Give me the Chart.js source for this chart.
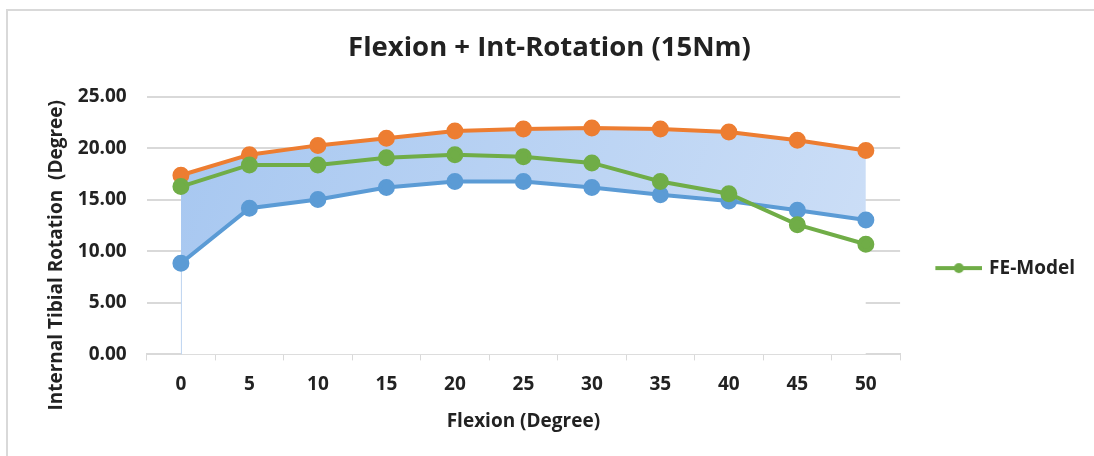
<!DOCTYPE html>
<html>
<head>
<meta charset="utf-8">
<script src="https://cdn.jsdelivr.net/npm/chart.js@4.4.0/dist/chart.umd.min.js"></script>
<style>
    html, body { margin: 0; padding: 0; background: #fff; }
    #wrap { position: relative; width: 1094px; height: 456px; }
    #frame { position: absolute; left: 6px; top: 9px; right: 0; bottom: 0;
             border-top: 2px solid #d9d9d9; border-left: 2px solid #d9d9d9; pointer-events: none; }
    canvas { display: block; }
</style>
</head>
<body>
<div id="wrap">
    <canvas id="chart" width="1094" height="456"></canvas>
    <div id="frame"></div>
</div>
<script>
// ── Data ─────────────────────────────────────────────────────────────────────
const flexion   = ['0', '5', '10', '15', '20', '25', '30', '35', '40', '45', '50'];
const upperVals = [17.4, 19.4, 20.3, 21.0, 21.7, 21.9, 22.0, 21.9, 21.6, 20.8, 19.8];
const lowerVals = [8.85, 14.2, 15.05, 16.2, 16.8, 16.8, 16.2, 15.5, 14.9, 14.0, 13.05];
const feModel   = [16.3, 18.4, 18.4, 19.1, 19.4, 19.2, 18.6, 16.8, 15.6, 12.6, 10.7];

const ORANGE = '#ED7D31';
const BLUE   = '#5B9BD5';
const GREEN  = '#70AD47';
const GRID   = '#d9d9d9';
const TEXT   = '#222222';
const FONT   = '"Open Sans", Lato, sans-serif';

// legend icon: line with a dot (transparent left part so the line sits next to the text)
function legendIcon(color) {
    const c = document.createElement('canvas');
    c.width = 75; c.height = 14;
    const g = c.getContext('2d');
    g.strokeStyle = color; g.lineWidth = 4;
    g.beginPath(); g.moveTo(28, 7); g.lineTo(75, 7); g.stroke();
    g.fillStyle = color;
    g.beginPath(); g.arc(51.5, 7, 5, 0, Math.PI * 2); g.fill();
    return c;
}
const feIcon = legendIcon(GREEN);

function bandGradient(ctx) {
    const area = ctx.chart.chartArea;
    if (!area) return 'rgba(168,200,240,0.9)';
    const g = ctx.chart.ctx.createLinearGradient(area.left, area.top, area.right, area.bottom);
    g.addColorStop(0, '#a5c6f0');
    g.addColorStop(1, '#cfe0f7');
    return g;
}

// thin edge line of the lower area at the first category
const edgeLine = {
    id: 'edgeLine',
    afterDatasetDraw(chart, args) {
        if (args.index !== 3) return;
        const x = chart.scales.x.getPixelForValue(0);
        const y0 = chart.scales.y.getPixelForValue(0);
        const y1 = chart.scales.y.getPixelForValue(lowerVals[0]);
        const c = chart.ctx;
        c.save();
        c.strokeStyle = '#bcd4f0';
        c.lineWidth = 1;
        c.beginPath(); c.moveTo(x + 0.5, y1); c.lineTo(x + 0.5, y0); c.stroke();
        c.restore();
    }
};

const lineDs = (label, data, color, order) => ({
    label, data, order,
    borderColor: color, backgroundColor: color,
    pointBackgroundColor: color, pointBorderColor: color,
    borderWidth: 4, pointRadius: 6.5, pointHoverRadius: 6.5,
    fill: false, tension: 0
});

new Chart(document.getElementById('chart'), {
    type: 'line',
    data: {
        labels: flexion,
        datasets: [
            lineDs('FE-Model', feModel, GREEN, 0),
            lineDs('Upper', upperVals, ORANGE, 1),
            lineDs('Lower', lowerVals, BLUE, 2),
            { label: 'base', data: lowerVals, order: 4, fill: 'origin',
              backgroundColor: '#ffffff', borderWidth: 0, pointRadius: 0, borderColor: 'rgba(0,0,0,0)' },
            { label: 'band', data: upperVals, order: 3, fill: 3,
              backgroundColor: bandGradient, borderWidth: 0, pointRadius: 0, borderColor: 'rgba(0,0,0,0)' }
        ]
    },
    options: {
        responsive: false,
        animation: false,
        layout: { padding: { top: 32, left: 14, right: 9, bottom: 23 } },
        plugins: {
            title: {
                display: true,
                text: 'Flexion + Int-Rotation (15Nm)',
                color: TEXT,
                font: { family: FONT, size: 27.5, weight: 'bold' },
                padding: { top: 0, bottom: 32 }
            },
            legend: {
                position: 'right',
                align: 'center',
                title: { display: true, text: '', padding: { top: 64, bottom: 0 }, font: { size: 6 } },
                labels: {
                    color: TEXT,
                    font: { family: FONT, size: 19, weight: 'bold' },
                    usePointStyle: true,
                    pointStyleWidth: 69.5,
                    padding: 10,
                    filter: item => item.datasetIndex === 0,
                    generateLabels(chart) {
                        const items = Chart.defaults.plugins.legend.labels.generateLabels(chart);
                        items.forEach(i => { i.pointStyle = feIcon; });
                        return items;
                    }
                }
            },
            tooltip: { enabled: false }
        },
        scales: {
            x: {
                offset: true,
                grid: { offset: true, drawOnChartArea: false, color: GRID, tickLength: 6 },
                border: { color: GRID, width: 2 },
                ticks: { color: TEXT, padding: 13, font: { family: FONT, size: 19, weight: 'bold' } },
                title: { display: true, text: 'Flexion (Degree)', color: TEXT, padding: { top: 1, bottom: 0 },
                         font: { family: FONT, size: 19, weight: 'bold' } }
            },
            y: {
                min: 0, max: 25,
                ticks: { stepSize: 5, padding: 20, color: TEXT,
                         callback: v => Number(v).toFixed(2),
                         font: { family: FONT, size: 19, weight: 'bold' } },
                grid: { color: GRID, lineWidth: 2, drawTicks: false },
                border: { display: false },
                title: { display: true, text: 'Internal Tibial Rotation  (Degree)            ', color: TEXT,
                         padding: { top: 31, bottom: -10 },
                         font: { family: FONT, size: 19, weight: 'bold' } }
            }
        }
    },
    plugins: [edgeLine]
});
</script>
</body>
</html>
